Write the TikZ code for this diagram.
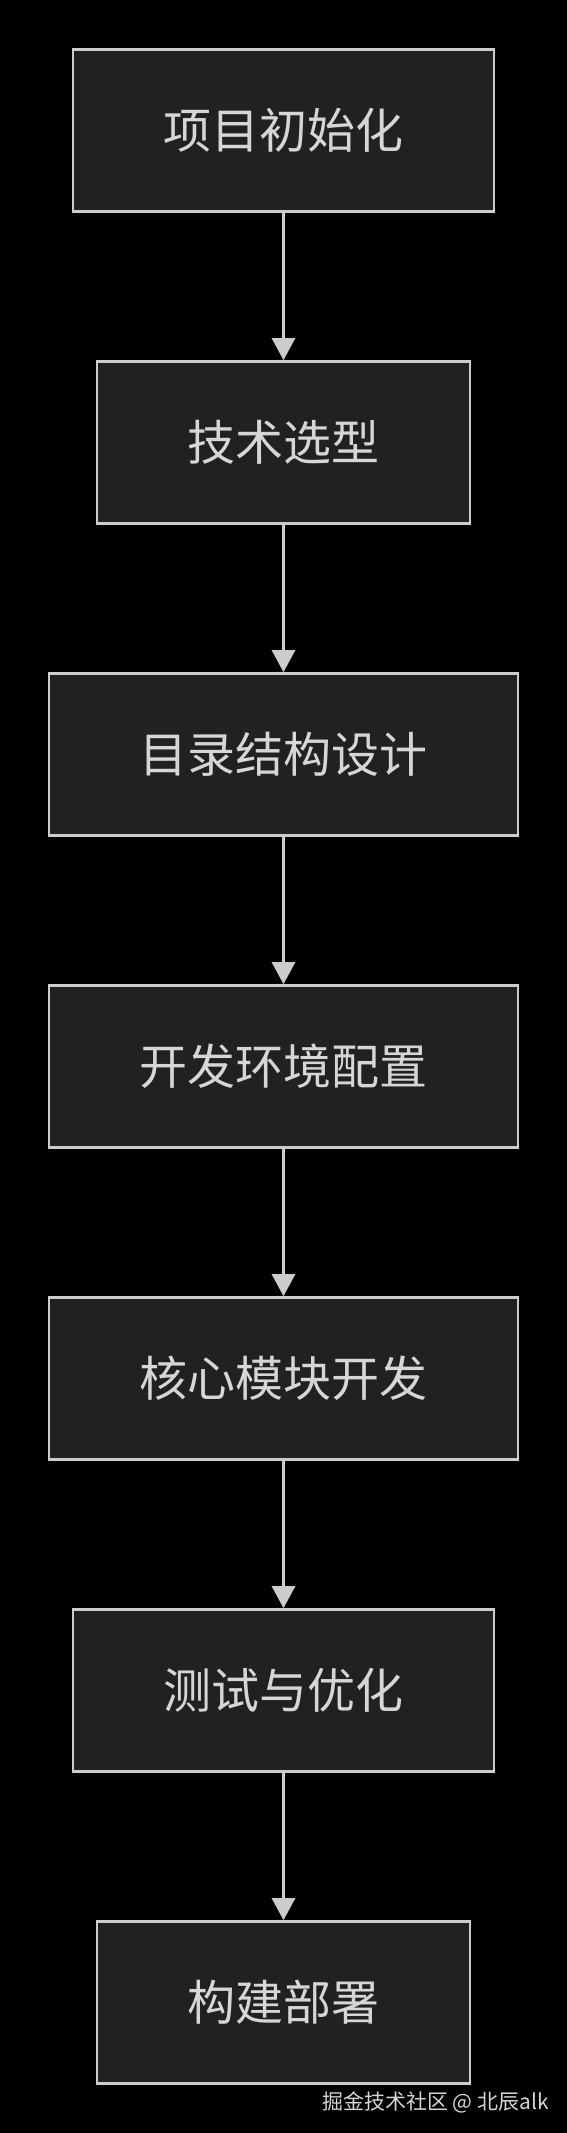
\documentclass[tikz,border=0pt]{standalone}
\usepackage{fontspec}
\newfontfamily\cjk{Noto Sans CJK SC}
\usetikzlibrary{arrows.meta}
\definecolor{bgc}{HTML}{000000}
\definecolor{boxfill}{HTML}{212121}
\definecolor{boxline}{HTML}{CCCCCC}
\definecolor{txt}{HTML}{D6D6D6}
\tikzset{
  stepbox/.style={draw=boxline, fill=boxfill, line width=2.6pt, minimum height=162pt,
    inner sep=0pt, text=txt, font=\cjk\fontsize{48}{52}\selectfont},
  flow/.style={draw=boxline, line width=2.6pt, -{Triangle[width=23pt,length=22pt]}},
}
\begin{document}
\begin{tikzpicture}[x=1pt,y=1pt]
\fill[bgc] (0,0) rectangle (567,-2133);
\useasboundingbox (0,0) rectangle (567,-2133);
\node[stepbox, minimum width=421pt] (n1) at (283.5,-130.5) {项目初始化};
\node[stepbox, minimum width=373pt] (n2) at (283.5,-442.5) {技术选型};
\node[stepbox, minimum width=469pt] (n3) at (283.5,-754.5) {目录结构设计};
\node[stepbox, minimum width=469pt] (n4) at (283.5,-1066.5) {开发环境配置};
\node[stepbox, minimum width=469pt] (n5) at (283.5,-1378.5) {核心模块开发};
\node[stepbox, minimum width=421pt] (n6) at (283.5,-1690.5) {测试与优化};
\node[stepbox, minimum width=373pt] (n7) at (283.5,-2002.5) {构建部署};
\draw[flow] (n1) -- (n2);
\draw[flow] (n2) -- (n3);
\draw[flow] (n3) -- (n4);
\draw[flow] (n4) -- (n5);
\draw[flow] (n5) -- (n6);
\draw[flow] (n6) -- (n7);
\node[anchor=east, inner sep=0pt, text=txt, font=\cjk\fontsize{21}{23}\selectfont] (wm) at (549,-2102) {掘金技术社区 @ 北辰alk};
\end{tikzpicture}
\end{document}
